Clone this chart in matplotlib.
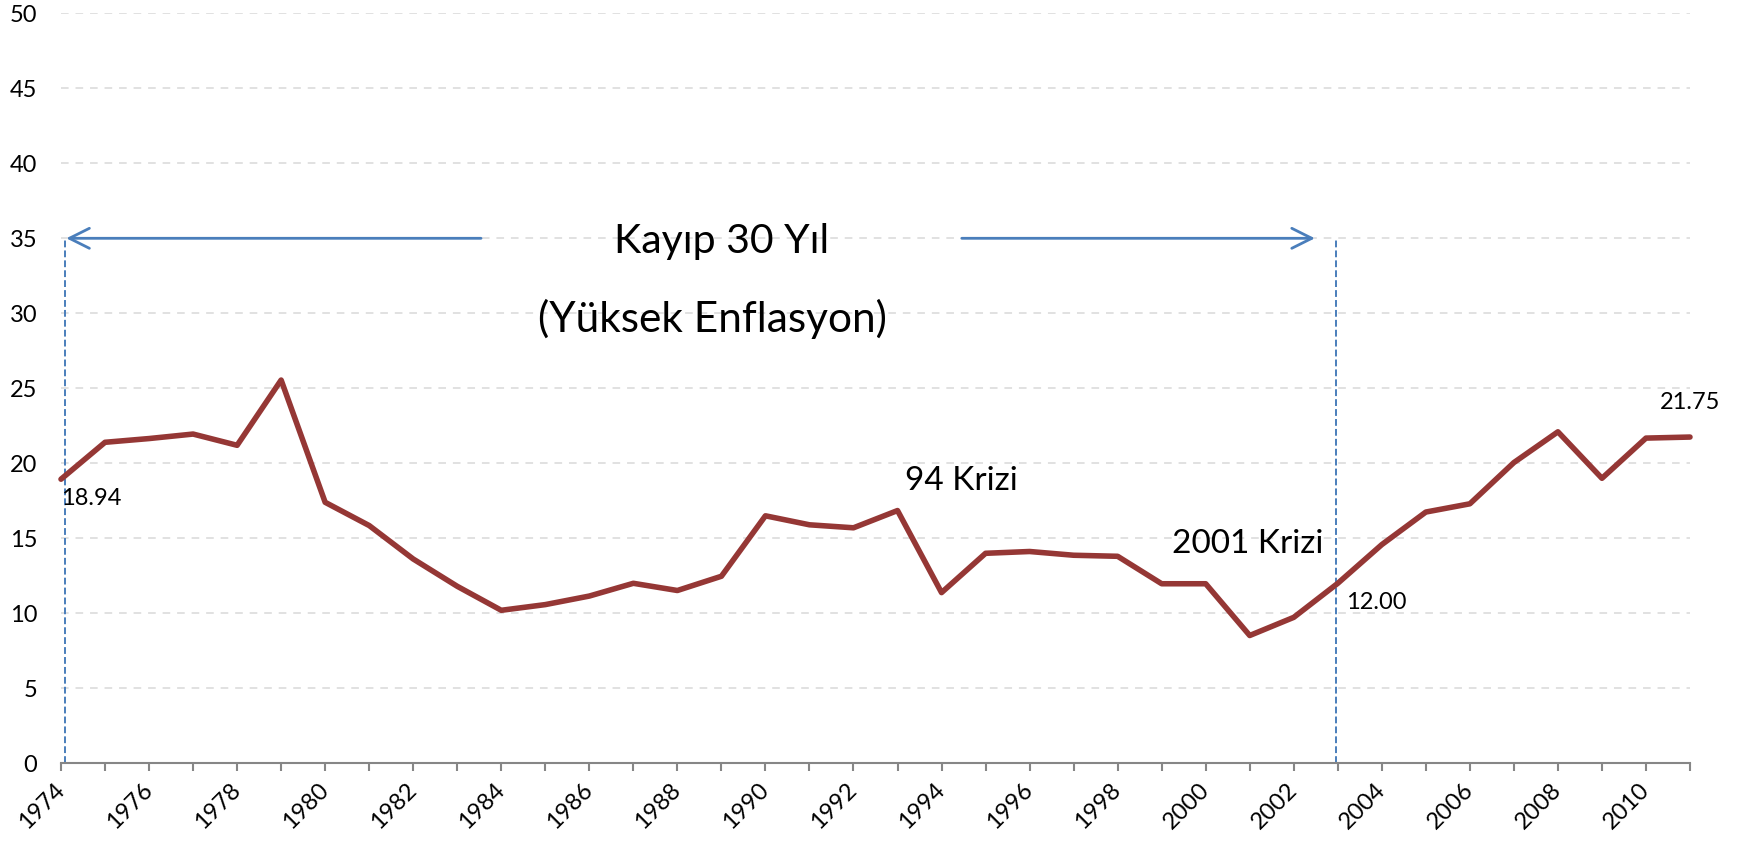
import matplotlib
matplotlib.use("Agg")
import matplotlib.pyplot as plt

# ---- data ----
years = list(range(1974, 2012))
values = [18.94, 21.40, 21.65, 21.95, 21.20, 25.55, 17.40, 15.85, 13.62, 11.80,
          10.20, 10.58, 11.15, 12.00, 11.52, 12.47, 16.50, 15.90, 15.70, 16.85,
          11.38, 14.00, 14.12, 13.87, 13.80, 11.97, 11.97, 8.52, 9.73, 12.00,
          14.58, 16.75, 17.30, 20.05, 22.10, 19.00, 21.68, 21.75]
xtick_labels = [str(y) if (y - 1974) % 2 == 0 and y <= 2010 else "" for y in years]
yticks = [0, 5, 10, 15, 20, 25, 30, 35, 40, 45, 50]
period_start, period_end = 1974, 2003
title_lines = ["Kayıp 30 Yıl", "(Yüksek Enflasyon)"]
crisis_labels = [("94 Krizi", 1994.45, 18.2), ("2001 Krizi", 2000.96, 14.0)]

# ---- style ----
FONT = ["Lato", "DejaVu Sans"]
plt.rcParams["font.family"] = FONT
LINE_C = "#953735"
BLUE = "#4A7EBB"
GRID_C = "#D9D9D9"
AXIS_C = "#868686"

W, H = 1744, 842
fig = plt.figure(figsize=(W / 100, H / 100), dpi=100)
left, right, top_px, bottom_px = 61, 1690, 13.3, 763.3
ax = fig.add_axes([left / W, 1 - bottom_px / H, (right - left) / W, (bottom_px - top_px) / H])

ax.set_xlim(1974, 2011)
ax.set_ylim(0, 50)

# grid
ax.set_yticks(yticks)
ax.yaxis.grid(True, color=GRID_C, linewidth=1.1, linestyle=(0, (5, 4.5)))
ax.set_axisbelow(True)

# axes
for s in ["top", "right", "left"]:
    ax.spines[s].set_visible(False)
ax.spines["bottom"].set_color(AXIS_C)
ax.spines["bottom"].set_linewidth(1.5)
ax.tick_params(axis="y", length=0, pad=17, labelsize=17, labelcolor="black")
ax.tick_params(axis="x", length=6, width=1.5, color=AXIS_C, direction="out",
               pad=11, labelsize=17)
ax.set_xticks(years)
ax.set_xticklabels(xtick_labels, rotation=45, ha="right", va="center",
                   rotation_mode="anchor")

# data line
ax.plot(years, values, color=LINE_C, linewidth=4.0, solid_capstyle="round",
        solid_joinstyle="round", clip_on=False, zorder=3)

# period markers (vertical dashed lines)
for xv in (period_start + 0.08, period_end - 0.03):
    ax.plot([xv, xv], [0, 35], color=BLUE, linewidth=1.4,
            linestyle=(0, (3.5, 1.6)), zorder=2)

# arrows
ap = dict(arrowstyle="->,head_length=0.72,head_width=0.36", color=BLUE, lw=2.0,
          shrinkA=0, shrinkB=0, mutation_scale=20)
ax.annotate("", xy=(1974.12, 35), xytext=(1983.54, 35), arrowprops=ap)
ax.annotate("", xy=(2002.48, 35), xytext=(1994.46, 35), arrowprops=ap)

# big text
ax.text(1989.01, 34.0, title_lines[0], ha="center", va="baseline", fontsize=29.5)
ax.text(1988.8, 28.75, title_lines[1], ha="center", va="baseline", fontsize=30.5)

for txt, xx, yy in crisis_labels:
    ax.text(xx, yy, txt, ha="center", va="baseline", fontsize=24)

# data labels
ax.text(years[0], values[0] - 0.6, f"{values[0]:.2f}", ha="left", va="top", fontsize=17)
i03 = years.index(2003)
ax.text(years[i03] + 0.18, values[i03] - 0.56, f"{values[i03]:.2f}", ha="left", va="top", fontsize=17)
ax.text(years[-1], values[-1] + 1.6, f"{values[-1]:.2f}", ha="center", va="bottom", fontsize=17)

fig.savefig("out.png", dpi=100)
